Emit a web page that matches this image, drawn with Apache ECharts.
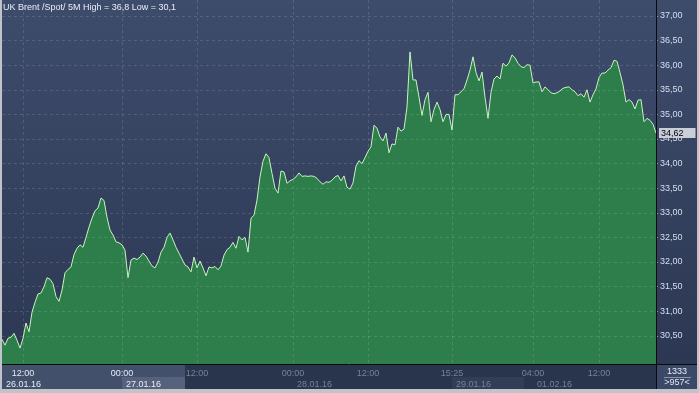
<!DOCTYPE html>
<html>
<head>
<meta charset="utf-8">
<script src="https://cdn.jsdelivr.net/npm/echarts@6/dist/echarts.min.js"></script>
<style>
html,body{margin:0;padding:0;background:#c0c4ca;}
#c{width:699px;height:393px;}
</style>
</head>
<body>
<div id="c"></div>
<script>
const titleText = 'UK Brent /Spot/ 5M High = 36,8 Low = 30,1';
const prices = [
30.43,30.31,30.45,30.47,30.55,30.41,30.25,30.45,30.76,30.58,
30.98,31.18,31.35,31.37,31.50,31.68,31.65,31.56,31.30,31.20,
31.43,31.78,31.85,31.90,32.15,32.28,32.35,32.30,32.50,32.71,
32.89,33.04,33.10,33.30,33.25,32.91,32.65,32.55,32.41,32.39,
32.35,32.24,31.68,32.04,32.08,32.05,32.10,32.18,32.12,32.02,
31.92,31.88,32.00,32.20,32.30,32.50,32.59,32.45,32.30,32.18,
32.06,31.94,31.90,31.80,32.10,31.88,32.02,31.88,31.72,31.90,
31.88,31.91,31.84,31.92,32.14,32.25,32.30,32.40,32.28,32.52,
32.45,32.50,32.20,32.89,32.95,33.26,33.73,34.05,34.20,34.12,
33.80,33.50,33.40,33.85,33.83,33.60,33.65,33.68,33.73,33.81,
33.74,33.75,33.74,33.75,33.74,33.70,33.63,33.58,33.63,33.62,
33.66,33.73,33.76,33.65,33.75,33.52,33.48,33.61,33.95,34.06,
34.00,34.12,34.25,34.34,34.78,34.72,34.54,34.46,34.62,34.22,
34.40,34.38,34.74,34.66,34.70,35.15,36.27,35.70,35.70,35.35,
34.98,35.30,35.45,34.85,35.10,35.25,35.10,34.85,35.00,35.00,
34.68,35.40,35.40,35.46,35.52,35.70,35.90,36.17,35.85,35.68,
35.86,35.35,34.92,35.45,35.72,35.78,35.72,36.04,35.98,36.05,
36.21,36.15,36.04,35.97,35.95,36.01,36.00,35.64,35.66,35.66,
35.46,35.56,35.50,35.44,35.42,35.44,35.48,35.53,35.55,35.56,
35.50,35.46,35.38,35.42,35.35,35.50,35.25,35.40,35.52,35.75,
35.84,35.84,35.90,35.95,36.10,36.08,35.85,35.60,35.25,35.30,
35.25,35.11,35.29,35.30,34.85,34.92,34.88,34.80,34.62
];
const categories = prices.map((_, i) => String(i));
const yTicks = [30.5,31,31.5,32,32.5,33,33.5,34,34.5,35,35.5,36,36.5,37];
const timeTickIdx = [7,40,65,97,122,150,177,199];
const timeTickText = ['12:00','00:00','12:00','00:00','12:00','15:25','04:00','12:00'];
const timeTickBright = [true,true,false,false,false,false,false,false];
const dateTickIdx = [0,40,97,150,177];
const dateTickText = ['26.01.16','27.01.16','28.01.16','29.01.16','01.02.16'];
const dateTickBright = [true,true,false,false,false];
const cornerTop = '1333';
const cornerBottom = '>957<';

const FONT = 'Liberation Sans';
const fmt = v => v.toFixed(2).replace('.', ',');

const chart = echarts.init(document.getElementById('c'), null, {renderer:'canvas'});
chart.setOption({
  backgroundColor: '#c0c4ca',
  animation: false,
  title: {
    text: titleText, left: 3, top: 3, padding: 0,
    textStyle: {fontSize: 9, fontWeight: 'normal', color: '#e8eef8', fontFamily: FONT}
  },
  grid: {left: 2, right: 43, top: 0, bottom: 29, containLabel: false},
  xAxis: [{
    type: 'category', data: categories, boundaryGap: false, z: 3,
    axisLine: {show: false}, axisTick: {show: false},
    axisLabel: {
      interval: (i) => timeTickIdx.includes(i),
      formatter: (v, i) => { const k = timeTickIdx.indexOf(i); return k < 0 ? '' : (timeTickBright[k] ? '{b|' : '{d|') + timeTickText[k] + '}'; },
      margin: 5, fontSize: 9, fontFamily: FONT,
      rich: {b: {color: '#e6ecf6', fontSize: 9, fontFamily: FONT}, d: {color: '#76829a', fontSize: 9, fontFamily: FONT}}
    },
    splitLine: {show: true, interval: (i) => timeTickIdx.includes(i), lineStyle: {color: 'rgba(255,255,255,0.13)', type: [3,3]}}
  }, {
    type: 'category', data: categories, boundaryGap: false, position: 'bottom', offset: 11, gridIndex: 0,
    axisLine: {show: false}, axisTick: {show: false}, splitLine: {show: false},
    axisLabel: {
      interval: (i) => dateTickIdx.includes(i), align: 'left',
      formatter: (v, i) => { const k = dateTickIdx.indexOf(i); return k < 0 ? '' : (dateTickBright[k] ? '{b|' : '{d|') + dateTickText[k] + '}'; },
      margin: 5, fontSize: 9, fontFamily: FONT,
      rich: {b: {color: '#e6ecf6', fontSize: 9, fontFamily: FONT, padding: [0,0,0,4]}, d: {color: '#76829a', fontSize: 9, fontFamily: FONT, padding: [0,0,0,4]}}
    }
  }],
  yAxis: {
    type: 'value', position: 'right', min: 29.927, max: 37.325, z: 3,
    axisLine: {show: false},
    axisTick: {show: true, customValues: yTicks, length: 2, lineStyle: {color: '#6d9be0'}},
    axisLabel: {customValues: yTicks, formatter: fmt, margin: 4, fontSize: 9, fontFamily: FONT, color: '#d6dff0'},
    splitLine: {show: true, lineStyle: {color: 'rgba(255,255,255,0.13)', type: [3,3]}}
  },
  series: [{
    type: 'line', data: prices, xAxisIndex: 0, symbol: 'none', z: 2,
    lineStyle: {width: 0, opacity: 0},
    areaStyle: {color: '#2e7e4c', opacity: 1, origin: 'start'}
  }, {
    type: 'line', data: prices, xAxisIndex: 0, symbol: 'none', z: 4,
    lineStyle: {width: 1, color: '#c6f5bd'},
    endLabel: {
      show: true, formatter: p => fmt(p.value), distance: 3,
      color: '#000', backgroundColor: '#c9ced8', padding: [1, 12, 0, 2],
      fontSize: 9, fontFamily: FONT, lineHeight: 9
    }
  }],
  graphic: [
    {type: 'rect', z: -10, shape: {x: 2, y: 0, width: 695, height: 364},
     style: {fill: new echarts.graphic.LinearGradient(0, 0, 0, 1, [{offset: 0, color: '#3e4c6c'}, {offset: 1, color: '#2c3853'}])}},
    {type: 'rect', z: -10, shape: {x: 2, y: 365, width: 654, height: 24}, style: {fill: '#29344d'}},
    {type: 'rect', z: -9, shape: {x: 2, y: 365, width: 183, height: 24}, style: {fill: '#43506b'}},
    {type: 'rect', z: -8, shape: {x: 122, y: 377, width: 63, height: 12}, style: {fill: '#56627c'}},
    {type: 'rect', z: -8, shape: {x: 452, y: 377, width: 72, height: 12}, style: {fill: '#323e58'}},
    {type: 'rect', z: -10, shape: {x: 657, y: 365, width: 40, height: 24}, style: {fill: '#3b4867'}},
    {type: 'line', z: 50, shape: {x1: 656.5, y1: 0, x2: 656.5, y2: 389}, style: {stroke: '#0a0a0a', lineWidth: 1}},
    {type: 'line', z: 50, shape: {x1: 2, y1: 364.5, x2: 697, y2: 364.5}, style: {stroke: '#0a0a0a', lineWidth: 1}},
    {type: 'line', z: 50, shape: {x1: 664, y1: 377.5, x2: 691, y2: 377.5}, style: {stroke: '#8c96ab', lineWidth: 1}},
    {type: 'text', z: 50, x: 677, y: 372, style: {text: cornerTop, fill: '#e8eef8', font: '9px "Liberation Sans"', textAlign: 'center', textVerticalAlign: 'middle'}},
    {type: 'text', z: 50, x: 677, y: 383, style: {text: cornerBottom, fill: '#dfe6f2', font: '9px "Liberation Sans"', textAlign: 'center', textVerticalAlign: 'middle'}}
  ]
});
</script>
</body>
</html>
